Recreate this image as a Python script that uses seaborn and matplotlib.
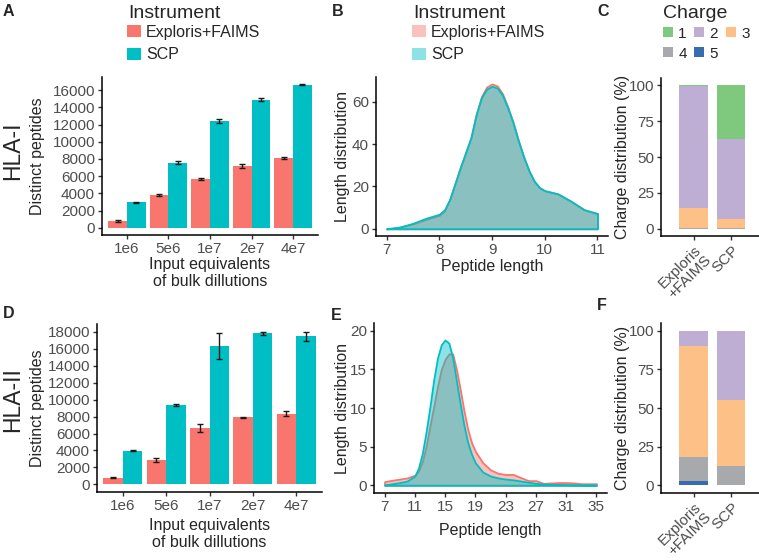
import pandas as pd
import matplotlib
matplotlib.use("Agg")
import matplotlib.pyplot as plt
from matplotlib.patches import Patch
from matplotlib.colors import to_rgba
import seaborn as sns

# bar panels (A, D): distinct peptides per input amount
dilutions = ["1e6", "5e6", "1e7", "2e7", "4e7"]
instruments = ["Exploris+FAIMS", "SCP"]
inst_colors = ["#F8766D", "#00BFC4"]

hla1_exploris = [800, 3800, 5650, 7170, 8090]
hla1_exploris_sd = [70, 150, 130, 260, 130]
hla1_scp = [2950, 7560, 12400, 14880, 16620]
hla1_scp_sd = [80, 180, 220, 150, 80]

hla2_exploris = [790, 2900, 6650, 7950, 8340]
hla2_exploris_sd = [60, 260, 470, 60, 270]
hla2_scp = [3990, 9390, 16280, 17810, 17500]
hla2_scp_sd = [50, 100, 1530, 220, 530]

# length distributions (B, E)
len1 = [7.0, 7.25, 7.5, 7.75, 8.0, 8.1, 8.2, 8.3, 8.4, 8.5, 8.6, 8.7, 8.8, 8.9,
        9.0, 9.1, 9.2, 9.3, 9.4, 9.5, 9.6, 9.7, 9.8, 9.9, 10.0, 10.25, 10.5, 10.75, 11.0]
dist1_exploris = [0, 0.8, 2.3, 4.5, 6.3, 8.5, 14, 21.5, 29, 36, 43, 54, 62.5, 67,
                  68.4, 67.5, 63.8, 57.5, 50.3, 41.8, 34, 27.5, 22.5, 19.5, 18, 16.5, 13, 9, 7.2]
dist1_scp = [0, 0.8, 2.6, 5.0, 6.9, 9.0, 14, 21.5, 29, 36, 43, 54, 62, 66,
             67.3, 66.5, 63, 57, 50, 41.5, 34, 27.5, 22.5, 19.5, 18, 16.5, 13, 9, 7.2]

len2 = [7, 8, 9, 10, 11, 11.5, 12, 12.5, 13, 13.5, 14, 14.5, 15, 15.5, 16, 16.5, 17,
        17.5, 18, 18.5, 19, 20, 21, 22, 23, 24, 25, 26, 27, 28, 29, 30, 31, 32, 33, 34, 35]
dist2_exploris = [0.47, 0.65, 0.8, 0.95, 1.3, 1.85, 3.1, 5.1, 7.7, 10.2, 12.8, 15.0, 16.3,
                  17.0, 17.0, 15.0, 12.4, 9.6, 7.2, 5.5, 4.4, 2.9, 2.0, 1.55, 1.4, 1.4,
                  1.0, 0.6, 0.6, 0.25, 0.3, 0.35, 0.35, 0.3, 0.2, 0.2, 0.2]
dist2_scp = [0.05, 0.2, 0.35, 0.55, 1.2, 2.3, 4.2, 7.0, 10.2, 13.7, 16.5, 18.2, 18.8,
             18.4, 16.5, 13.5, 10.5, 7.7, 5.5, 4.0, 2.9, 1.7, 1.2, 0.95, 0.8, 0.7,
             0.55, 0.4, 0.25, 0.17, 0.13, 0.1, 0.08, 0.07, 0.06, 0.05, 0.05]

# charge distributions (C, F), percent per charge state 1..5
charges = ["1", "2", "3", "4", "5"]
charge_colors = ["#7FC97F", "#BEAED4", "#FDC086", "#A8A9AD", "#386CB0"]
inst_short = ["Exploris\n+FAIMS", "SCP"]
hla1_charge_exploris = [0.3, 84.9, 14.5, 0.2, 0.1]
hla1_charge_scp = [37.8, 55.7, 6.0, 0.4, 0.1]
hla2_charge_exploris = [0.0, 10.1, 71.4, 15.7, 2.8]
hla2_charge_scp = [0.0, 45.0, 42.5, 12.0, 0.5]

sns.set_theme(style="ticks")
plt.rcParams["font.family"] = ["Liberation Sans", "DejaVu Sans"]

W, H = 759, 560
fig = plt.figure(figsize=(W / 100, H / 100), dpi=100)
ALPHA = 0.45


def px_axes(x0, y0, x1, y1):
    return fig.add_axes([x0 / W, 1 - y1 / H, (x1 - x0) / W, (y1 - y0) / H])


def style(ax):
    sns.despine(ax=ax)
    for s in ["left", "bottom"]:
        ax.spines[s].set_linewidth(1.1)
        ax.spines[s].set_color("black")
    ax.tick_params(length=3, width=1, color="#333333", labelcolor="#4D4D4D",
                   labelsize=11, pad=2)
    ax.xaxis.label.set_size(11.5)
    ax.yaxis.label.set_size(11.5)
    ax.yaxis.label.set_va("center")
    ax.xaxis.label.set_va("center")


def bars(ax, exploris, exploris_sd, scp, scp_sd, ymax, yticks):
    df = pd.DataFrame({
        "dilution": dilutions * 2,
        "instrument": [instruments[0]] * 5 + [instruments[1]] * 5,
        "peptides": exploris + scp,
    })
    sns.barplot(data=df, x="dilution", y="peptides", hue="instrument",
                hue_order=instruments, palette=inst_colors, width=0.9,
                errorbar=None, legend=False, saturation=1, linewidth=0, ax=ax)
    for cont, sd in zip(ax.containers, [exploris_sd, scp_sd]):
        xs = [b.get_x() + b.get_width() / 2 for b in cont]
        ys = [b.get_height() for b in cont]
        ax.errorbar(xs, ys, yerr=sd, fmt="none", ecolor="#1a1a1a",
                    elinewidth=1, capsize=2.5, capthick=1)
    ax.set_xlim(-0.6, 4.6)
    ax.set_ylim(-ymax * 0.05, ymax * 1.05)
    ax.set_yticks(yticks)
    ax.set_xlabel("Input equivalents\nof bulk dillutions")
    ax.set_ylabel("Distinct peptides")
    style(ax)


def density(ax, x, exploris, scp, ylim, xticks, yticks):
    for y, c in zip([exploris, scp], inst_colors):
        ax.fill_between(x, y, facecolor=to_rgba(c, ALPHA), edgecolor=c, linewidth=1.3)
    ax.set_xlim(x[0] - 0.05 * (x[-1] - x[0]), x[-1] + 0.05 * (x[-1] - x[0]))
    ax.set_ylim(*ylim)
    ax.set_xticks(xticks)
    ax.set_yticks(yticks)
    ax.set_xlabel("Peptide length")
    ax.set_ylabel("Length distribution")
    style(ax)


def charge_bars(ax, exploris, scp):
    df = pd.DataFrame({
        "instrument": [inst_short[0]] * 5 + [inst_short[1]] * 5,
        "charge": charges * 2,
        "pct": exploris + scp,
    })
    # stack from charge 5 at the bottom up to charge 1 on top
    df["cum"] = df.iloc[::-1].groupby("instrument")["pct"].cumsum()
    for ch, col in zip(charges, charge_colors):
        sub = df[df["charge"] == ch]
        sns.barplot(data=sub, x="instrument", y="cum", order=inst_short, color=col,
                    width=0.76, saturation=1, linewidth=0, errorbar=None, ax=ax)
    ax.set_xlim(-0.87, 1.74)
    ax.set_ylim(-5, 105)
    ax.set_yticks([0, 25, 50, 75, 100])
    ax.set_xlabel("")
    ax.set_ylabel("Charge distribution (%)")
    style(ax)
    for lab in ax.get_xticklabels():
        lab.set_rotation(45)
        lab.set_ha("right")
        lab.set_va("top")
        lab.set_rotation_mode("anchor")
        lab.set_linespacing(1.0)


axA = px_axes(102, 77, 318, 235)
bars(axA, hla1_exploris, hla1_exploris_sd, hla1_scp, hla1_scp_sd, 16690,
     range(0, 16001, 2000))
axA.xaxis.set_label_coords(0.5, (235 - 273) / 158)
axA.yaxis.set_label_coords((37.5 - 102) / 216, 0.5)

axD = px_axes(97, 324, 322, 492)
bars(axD, hla2_exploris, hla2_exploris_sd, hla2_scp, hla2_scp_sd, 18030,
     range(0, 18001, 2000))
axD.xaxis.set_label_coords(0.5, (492 - 534) / 168)
axD.yaxis.set_label_coords((37.5 - 97) / 225, 0.5)

axB = px_axes(376, 77, 608, 236)
density(axB, len1, dist1_exploris, dist1_scp, (-3.4, 71.7), [7, 8, 9, 10, 11],
        [0, 20, 40, 60])
axB.xaxis.set_label_coords(0.5, (236 - 266) / 159)
axB.yaxis.set_label_coords((342 - 376) / 232, 0.5)

axE = px_axes(374, 323, 607, 493)
density(axE, len2, dist2_exploris, dist2_scp, (-1, 21), range(7, 36, 4),
        [0, 5, 10, 15, 20])
axE.xaxis.set_label_coords(0.5, (493 - 531) / 170)
axE.yaxis.set_label_coords((342 - 374) / 233, 0.5)

axC = px_axes(661, 78, 759, 236)
charge_bars(axC, hla1_charge_exploris, hla1_charge_scp)
axC.yaxis.set_label_coords((622.5 - 661) / 98, 0.5)

axF = px_axes(661, 323, 759, 493)
charge_bars(axF, hla2_charge_exploris, hla2_charge_scp)
axF.yaxis.set_label_coords((622.5 - 661) / 98, 0.5)

# legends: titles as text, entries as legends
fig.text(128 / W, 1 - 18.5 / H, "Instrument", fontsize=14, ha="left", va="baseline")
fig.text(413 / W, 1 - 18.5 / H, "Instrument", fontsize=14, ha="left", va="baseline")
fig.text(663 / W, 1 - 17.5 / H, "Charge", fontsize=14, ha="left", va="baseline")

leg_kw = dict(loc="upper left", frameon=False, borderpad=0, borderaxespad=0,
              fontsize=11.5, handlelength=0.875, handleheight=0.78,
              handletextpad=0.3, labelspacing=0.45)
hA = [Patch(facecolor=c, edgecolor="none") for c in inst_colors]
fig.legend(hA, instruments, bbox_to_anchor=(127 / W, 1 - 25 / H), **leg_kw)
hB = [Patch(facecolor=to_rgba(c, ALPHA), edgecolor="none") for c in inst_colors]
fig.legend(hB, instruments, bbox_to_anchor=(412 / W, 1 - 25 / H), **leg_kw)

order = [0, 3, 1, 4, 2]
hC = [Patch(facecolor=charge_colors[i], edgecolor="none") for i in order]
fig.legend(hC, [charges[i] for i in order], ncol=3,
           loc="upper left", frameon=False, borderpad=0, borderaxespad=0,
           fontsize=11, handlelength=0.65, handleheight=0.65, handletextpad=0.35,
           labelspacing=0.4, columnspacing=0.5,
           bbox_to_anchor=(663 / W, 1 - 26.5 / H))

# panel letters and row labels
for lab, x, y in [("A", 3, 12), ("B", 332, 12), ("C", 597, 12),
                  ("D", 3, 314), ("E", 331, 315), ("F", 597, 305)]:
    fig.text(x / W, 1 - y / H, lab, fontsize=11.5, fontweight="bold",
             ha="left", va="center")
fig.text(12.5 / W, 1 - 151 / H, "HLA-I", fontsize=16.5, rotation=90,
         ha="center", va="center")
fig.text(12.5 / W, 1 - 400 / H, "HLA-II", fontsize=16.5, rotation=90,
         ha="center", va="center")

fig.savefig("out.png", dpi=100)
